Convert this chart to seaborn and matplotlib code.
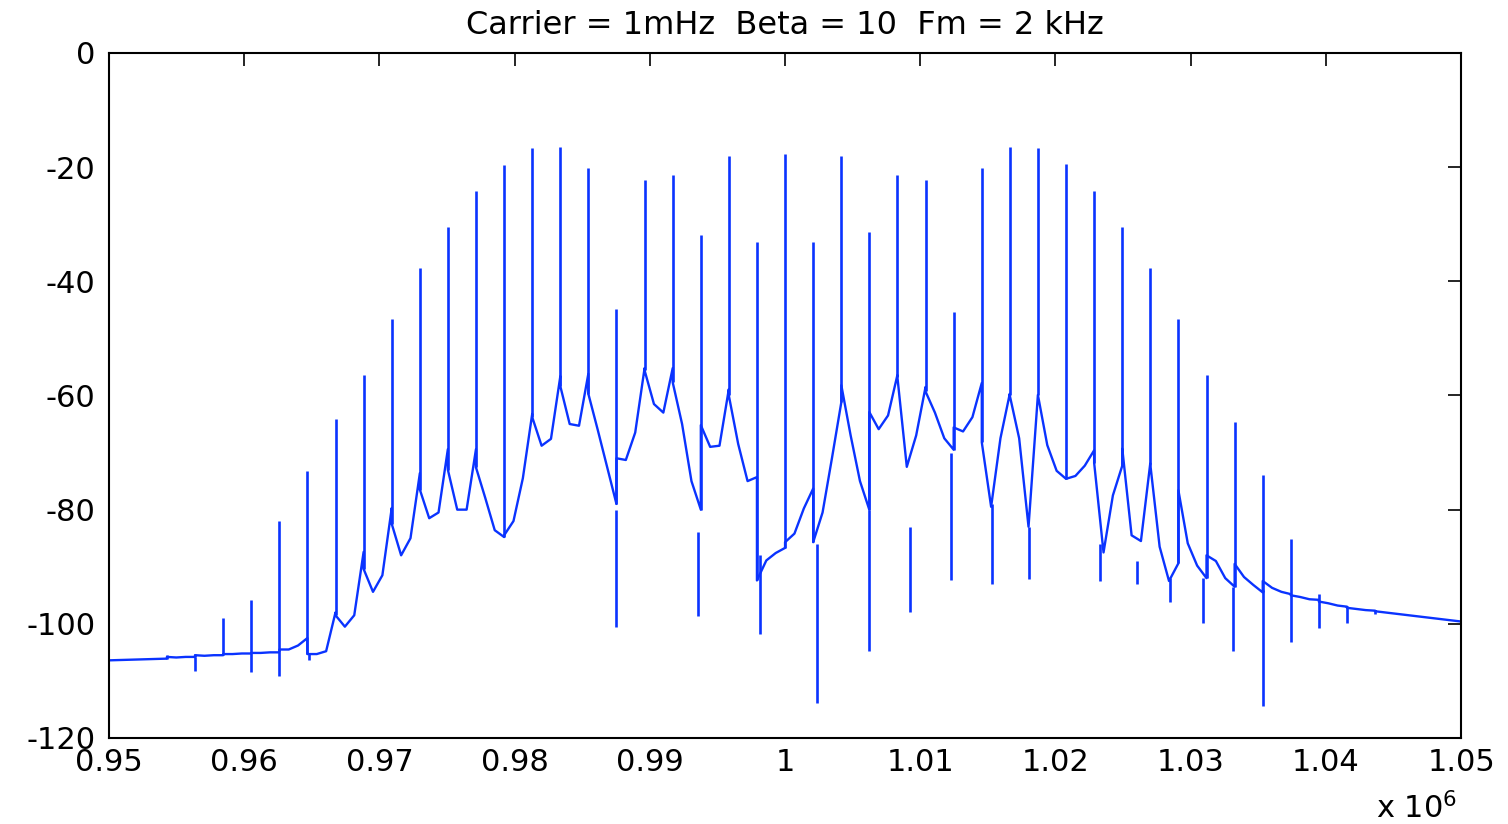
import numpy as np
import matplotlib
matplotlib.use("Agg")
import matplotlib.pyplot as plt
import seaborn as sns

# FM spectrum, frequencies in Hz, levels in dB
spike_hz = [954280, 956360, 958440, 960520, 962600, 964670, 966750, 968830, 970910,
            972990, 975060, 977140, 979220, 981300, 983380, 985450, 987530, 989610,
            991690, 993770, 995840, 997920, 1000000, 1002080, 1004160, 1006230,
            1008310, 1010390, 1012470, 1014550, 1016620, 1018700, 1020780, 1022860,
            1024940, 1027010, 1029090, 1031170, 1033250, 1035330, 1037400, 1039480,
            1041560, 1043640]
spike_top = [-105.5, -105.3, -98.9, -95.8, -82.0, -73.3, -64.1, -56.4, -46.6, -37.7,
             -30.5, -24.1, -19.6, -16.7, -16.4, -20.1, -44.8, -22.3, -21.3, -31.8,
             -18.1, -33.2, -17.7, -33.2, -18.1, -31.4, -21.3, -22.3, -45.4, -20.1,
             -16.4, -16.7, -19.5, -24.1, -30.5, -37.7, -46.6, -56.4, -64.6, -74.0,
             -85.2, -94.8, -96.9, -97.6]
# floor level just left / right of each spike
spike_left = [-106.1, -105.8, -105.5, -105.2, -105.0, -102.5, -98.0, -87.4, -79.7, -73.6,
              -69.4, -69.4, -84.8, -63.2, -56.6, -56.2, -79.0, -55.2, -55.2, -80.0,
              -58.9, -74.3, -86.7, -76.3, -61.2, -80.0, -56.4, -58.5, -69.5, -57.8,
              -59.7, -60.0, -74.6, -69.6, -72.3, -71.9, -89.4, -92.0, -93.5, -94.5,
              -94.8, -95.8, -97.0, -97.7]
spike_right = [-105.8, -105.5, -105.3, -105.1, -104.5, -105.3, -98.5, -90.4, -82.5, -76.5,
               -73.0, -72.6, -84.5, -63.8, -58.4, -59.7, -71.0, -55.6, -57.7, -65.2,
               -60.0, -92.4, -85.7, -85.7, -58.2, -62.9, -56.8, -59.3, -65.6, -68.2,
               -60.0, -59.9, -74.6, -71.8, -69.3, -72.0, -76.6, -88.0, -89.5, -92.5,
               -95.0, -96.1, -97.2, -97.8]
# floor at one third and two thirds of the way between neighbouring spikes
gap_a = [-105.9, -105.6, -105.3, -105.1, -104.5, -105.3, -100.5, -94.4, -88.0, -81.5,
         -80.0, -78.0, -82.0, -68.8, -65.0, -66.0, -71.3, -61.5, -65.0, -69.0,
         -68.5, -88.9, -84.2, -80.5, -67.0, -65.9, -72.5, -63.0, -66.3, -79.5,
         -67.5, -68.7, -74.1, -87.5, -84.5, -86.5, -85.9, -89.0, -91.8, -93.7,
         -95.3, -96.4, -97.4]
gap_b = [-105.8, -105.5, -105.2, -105.0, -103.8, -104.8, -98.5, -91.5, -85.0, -80.5,
         -80.0, -83.6, -74.5, -67.6, -65.3, -72.5, -66.5, -63.0, -75.0, -68.8,
         -75.0, -87.6, -79.8, -71.0, -75.0, -63.5, -67.0, -67.5, -63.8, -67.5,
         -83.0, -73.2, -72.3, -77.5, -85.5, -92.5, -89.8, -92.0, -93.2, -94.4,
         -95.7, -96.8, -97.6]
edge_hz = [950000, 1050000]
edge_db = [-106.4, -99.6]

# downward notches
notch_hz = [956360, 960520, 962600, 964820, 987530, 993530, 998160, 1002330, 1006180,
            1009250, 1012300, 1015290, 1018010, 1023300, 1026000, 1028490, 1030910,
            1033120, 1035330, 1037400, 1039480, 1041560, 1043640]
notch_from = [-105.8, -105.2, -105.0, -105.3, -80.0, -84.0, -88.0, -86.0, -80.0, -83.0,
              -70.0, -79.0, -83.0, -86.0, -89.0, -92.0, -92.0, -93.5, -94.0, -95.0,
              -96.0, -97.0, -97.6]
notch_db = [-108.2, -108.5, -109.2, -106.3, -100.5, -98.7, -101.8, -113.9, -104.7, -98.0,
            -92.4, -93.1, -92.1, -92.5, -93.1, -96.2, -99.8, -104.8, -114.4, -103.2,
            -100.8, -99.8, -98.3]

xtick_hz = [950000, 960000, 970000, 980000, 990000, 1000000, 1010000, 1020000,
            1030000, 1040000, 1050000]
xtick_labels = ["0.95", "0.96", "0.97", "0.98", "0.99", "1", "1.01", "1.02", "1.03",
                "1.04", "1.05"]
ytick_vals = [-120, -100, -80, -60, -40, -20, 0]
ytick_labels = ["-120", "-100", "-80", "-60", "-40", "-20", "0"]

blue = "#0a33ff"

sns.set_theme(style="white")
plt.rcParams["font.family"] = ["DejaVu Sans"]
plt.rcParams["mathtext.fontset"] = "dejavusans"

fig = plt.figure(figsize=(15.08, 8.24), dpi=100)
ax = fig.add_axes([0.0723, 0.1044, 0.8966, 0.8313])

# floor path through the spike bases and gap points
fx = [edge_hz[0]]
fy = [edge_db[0]]
for i, f in enumerate(spike_hz):
    fx += [f, f]
    fy += [spike_left[i], spike_right[i]]
    if i < len(gap_a):
        d = spike_hz[i + 1] - f
        fx += [f + d / 3, f + 2 * d / 3]
        fy += [gap_a[i], gap_b[i]]
fx.append(edge_hz[1])
fy.append(edge_db[1])

sns.lineplot(x=fx, y=fy, estimator=None, sort=False, color=blue, lw=1.7, ax=ax)
ax.vlines(spike_hz, np.minimum(spike_left, spike_right), spike_top, colors=blue, lw=1.9)
ax.vlines(notch_hz, notch_from, notch_db, colors=blue, lw=1.9)

ax.set_xlim(950000, 1050000)
ax.set_ylim(-120, 0)
ax.set_xticks(xtick_hz)
ax.set_xticklabels(xtick_labels)
ax.set_yticks(ytick_vals)
ax.set_yticklabels(ytick_labels)
ax.set_xlabel("")
ax.set_ylabel("")
ax.tick_params(direction="in", length=9.5, width=1.2, color="black", labelcolor="black",
               top=True, right=True, labelsize=22)
ax.tick_params(axis="y", pad=10)
ax.tick_params(axis="x", pad=7)
for s in ax.spines.values():
    s.set_color("black")
    s.set_linewidth(1.5)

ax.set_title("Carrier = 1mHz  Beta = 10  Fm = 2 kHz", fontsize=23, pad=14, color="black")
ax.text(0.997, -0.117, "x 10$^{6}$", transform=ax.transAxes, ha="right",
        va="baseline", fontsize=22, color="black")

fig.savefig("out.png", dpi=100)
